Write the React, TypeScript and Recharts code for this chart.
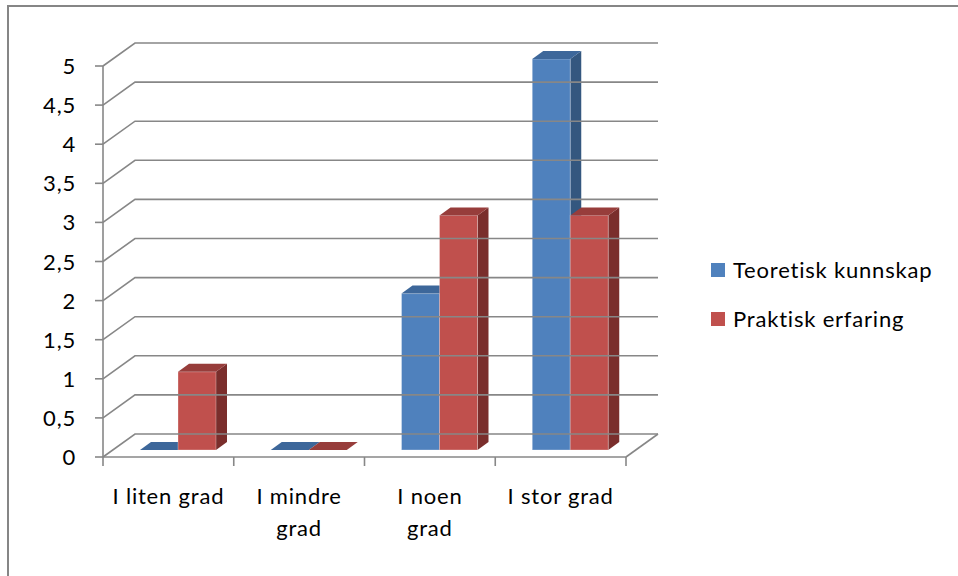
import React from "react";
import { BarChart, Bar, XAxis, YAxis, ReferenceLine, Legend } from "recharts";

const categories = ["I liten grad", "I mindre grad", "I noen grad", "I stor grad"];
const categoryLines = [["I liten grad"], ["I mindre", "grad"], ["I noen", "grad"], ["I stor grad"]];
const teoretisk = [0, 0, 2, 5];
const praktisk = [1, 0, 3, 3];
const yTicks = [0, 0.5, 1, 1.5, 2, 2.5, 3, 3.5, 4, 4.5, 5];
const seriesNames = ["Teoretisk kunnskap", "Praktisk erfaring"];

const data = categories.map((c, i) => ({ name: c, teoretisk: teoretisk[i], praktisk: praktisk[i] }));

const FONT = "Lato, 'Open Sans', sans-serif";
const FS = 22;
const LS = 0.8;
const GRID = "#878787";
const DEPTH_X = 32;
const DEPTH_Y = -23;

const BLUE = { front: "#4F81BD", top: "#3D679A", side: "#34577F" };
const RED = { front: "#C0504D", top: "#973D3B", side: "#7A2E2C" };

const makeBox = (col: any) => (props: any) => {
  const { x, y, width, height } = props;
  const ox = 10, oy = -7, dx = 11, dy = -8;
  const X = x + ox;
  const Y = y + oy;
  const W = width;
  const H = Math.max(0, height);
  return (
    <g>
      {H > 0 && (
        <polygon
          points={`${X + W},${Y} ${X + W + dx},${Y + dy} ${X + W + dx},${Y + H + dy} ${X + W},${Y + H}`}
          fill={col.side}
        />
      )}
      {H > 0 && <rect x={X} y={Y} width={W} height={H} fill={col.front} stroke="rgba(255,255,255,0.3)" strokeWidth={1} />}
      <polygon
        points={`${X},${Y} ${X + W},${Y} ${X + W + dx},${Y + dy} ${X + dx},${Y + dy}`}
        fill={col.top}
      />
    </g>
  );
};

const GridShape = (isFloor: boolean) => (props: any) => {
  const { x1, y1, x2 } = props;
  const left = Math.min(x1, x2);
  const right = Math.max(x1, x2);
  return (
    <g>
      <path
        d={`M${left},${y1} L${left + DEPTH_X},${y1 + DEPTH_Y} L${right + DEPTH_X},${y1 + DEPTH_Y}`}
        stroke={GRID}
        strokeWidth={1.6}
        fill="none"
      />
      {isFloor && (
        <path d={`M${right},${y1} L${right + DEPTH_X},${y1 + DEPTH_Y}`} stroke={GRID} strokeWidth={1.6} fill="none" />
      )}
    </g>
  );
};

const TickMark = (props: any) => {
  const { x1, y1, y2 } = props;
  const b = Math.max(y1, y2);
  return <line x1={x1} y1={b} x2={x1} y2={b + 9} stroke={GRID} strokeWidth={1.6} />;
};

const CatTick = (props: any) => {
  const { x, y, index } = props;
  const lines = categoryLines[index] || [];
  return (
    <g>
      {lines.map((l: string, i: number) => (
        <text
          key={i}
          x={x}
          y={y + 47 + i * 32}
          textAnchor="middle"
          fontFamily={FONT}
          fontSize={FS}
          letterSpacing={LS}
          fill="#000"
        >
          {l}
        </text>
      ))}
    </g>
  );
};

const YTick = (props: any) => {
  const { x, y, payload } = props;
  return (
    <text x={x} y={y + 8} textAnchor="end" fontFamily={FONT} fontSize={FS} letterSpacing={LS} fill="#000">
      {String(payload.value).replace(".", ",")}
    </text>
  );
};

const LegendContent = () => (
  <svg width={247} height={90} style={{ display: "block" }}>
    <rect x={0} y={8} width={14} height={14} fill={BLUE.front} />
    <text x={22} y={23} fontFamily={FONT} fontSize={FS} letterSpacing={LS} fill="#000">{seriesNames[0]}</text>
    <rect x={0} y={57} width={14} height={14} fill={RED.front} />
    <text x={22} y={72} fontFamily={FONT} fontSize={FS} letterSpacing={LS} fill="#000">{seriesNames[1]}</text>
  </svg>
);

export default function App() {
  return (
    <div style={{ position: "absolute", left: 0, top: 0, width: 958, height: 576, overflow: "hidden", background: "#fff" }}>
      <div
        style={{
          position: "absolute",
          left: 7,
          top: 5,
          width: 1000,
          height: 1000,
          border: "2px solid #868686",
          boxSizing: "border-box",
        }}
      />
      <div style={{ position: "absolute", left: 0, top: 0 }}>
        <BarChart
          width={958}
          height={576}
          data={data}
          margin={{ top: 66, right: 332, bottom: 59, left: 43 }}
          barGap={0}
          barSize={38}
        >
          {yTicks.map((v) => (
            <ReferenceLine key={v} y={v} ifOverflow="visible" shape={GridShape(v === 0)} />
          ))}
          {categories.map((c) => (
            <ReferenceLine key={c} x={c} position="start" ifOverflow="visible" shape={TickMark} />
          ))}
          <ReferenceLine x={categories[categories.length - 1]} position="end" ifOverflow="visible" shape={TickMark} />
          <XAxis
            dataKey="name"
            height={60}
            tickLine={false}
            tickSize={0}
            tickMargin={0}
            axisLine={{ stroke: GRID, strokeWidth: 1.6 }}
            tick={<CatTick />}
            interval={0}
          />
          <YAxis
            width={60}
            domain={[0, 5]}
            ticks={yTicks}
            interval={0}
            tickSize={8}
            tickMargin={19}
            axisLine={{ stroke: GRID, strokeWidth: 1.6 }}
            tickLine={{ stroke: GRID, strokeWidth: 1.6 }}
            tick={<YTick />}
          />
          <Bar dataKey="teoretisk" name={seriesNames[0]} fill={BLUE.front} isAnimationActive={false} shape={makeBox(BLUE)} />
          <Bar dataKey="praktisk" name={seriesNames[1]} fill={RED.front} isAnimationActive={false} shape={makeBox(RED)} />
          <Legend
            layout="vertical"
            align="center"
            verticalAlign="middle"
            wrapperStyle={{ left: 711, top: 255, width: 247 }}
            content={<LegendContent />}
          />
        </BarChart>
      </div>
    </div>
  );
}
